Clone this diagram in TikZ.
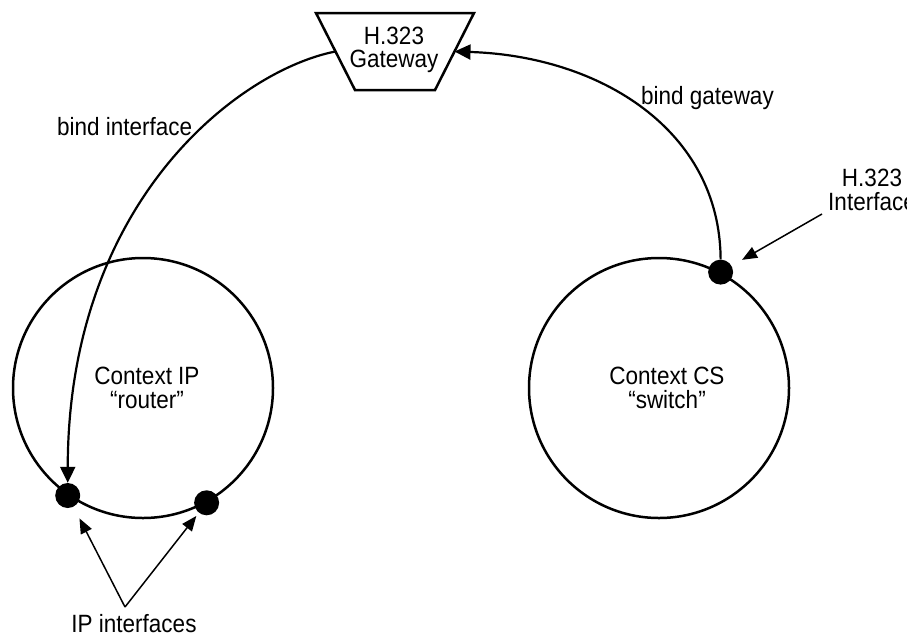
\documentclass[tikz,border=0pt]{standalone}
\usepackage{fontspec}
\setmainfont{Liberation Sans}[FakeStretch=0.9]
\usetikzlibrary{shapes.geometric,arrows.meta,positioning,calc}

\begin{document}
\begin{tikzpicture}[x=1pt,y=-1pt,font=\fontsize{25}{23.5}\selectfont,
  ctx/.style={circle,draw,line width=2.5pt,minimum size=260pt,inner sep=0pt},
  iface/.style={circle,fill=black,minimum size=25pt,inner sep=0pt},
  lbl/.style={inner sep=0pt,align=center},
  bind/.style={line width=2.2pt,-{Triangle[length=16pt,width=15pt]}},
  pointer/.style={line width=1.5pt,-{Triangle[length=15pt,width=12pt]}}]
  \useasboundingbox (0,0) rectangle (907,638);

  % Gateway
  \coordinate (gwtl) at (316,13);
  \coordinate (gwtr) at (474,13);
  \coordinate (gwbr) at (435,90);
  \coordinate (gwbl) at (355,90);
  \draw[line width=2.5pt,line join=miter] (gwtl) -- (gwtr) -- (gwbr) -- (gwbl) -- cycle;
  \coordinate (gwin) at ($(gwtl)!0.5!(gwbl)$);
  \coordinate (gwout) at ($(gwtr)!0.5!(gwbr)$);
  \node[lbl] (gw) at (394,50) {H.323\\Gateway};

  % Contexts
  \node[ctx] (ctxip) at (143,388) {};
  \node[ctx] (ctxcs) at (659,388) {};
  \node[lbl] (ctxiptxt) at ([xshift=4pt]ctxip.center) {Context IP\\“router”};
  \node[lbl] (ctxcstxt) at ([xshift=8pt]ctxcs.center) {Context CS\\“switch”};

  % Interfaces
  \node[iface] (ipa) at (ctxip.235.5) {};
  \node[iface] (ipb) at (ctxip.299) {};
  \node[iface] (h323) at (ctxcs.62) {};

  % Bindings
  \draw[bind] (gwin) .. controls (240,70) and (68,200) .. (ipa.north);
  \draw[bind] (h323.north) .. controls (720,130) and (600,56) .. (gwout);

  % Labels
  \node[lbl,anchor=base west] (bindif) at (57,135) {bind interface};
  \node[lbl,anchor=base west] (bindgw) at (641,104) {bind gateway};
  \node[lbl,anchor=north] (h323lbl) at (872,169) {H.323\\Interface};
  \node[lbl,anchor=base] (iplbl) at (134,632) {IP interfaces};

  % Pointers
  \coordinate (hiftail) at (822,214);
  \draw[pointer,shorten >=12pt] (hiftail) -- (h323);
  \coordinate (ipapex) at (125,607);
  \draw[pointer,shorten >=13pt] (ipapex) -- (ipa);
  \draw[pointer,shorten >=4pt] (ipapex) -- (ipb);
\end{tikzpicture}
\end{document}
